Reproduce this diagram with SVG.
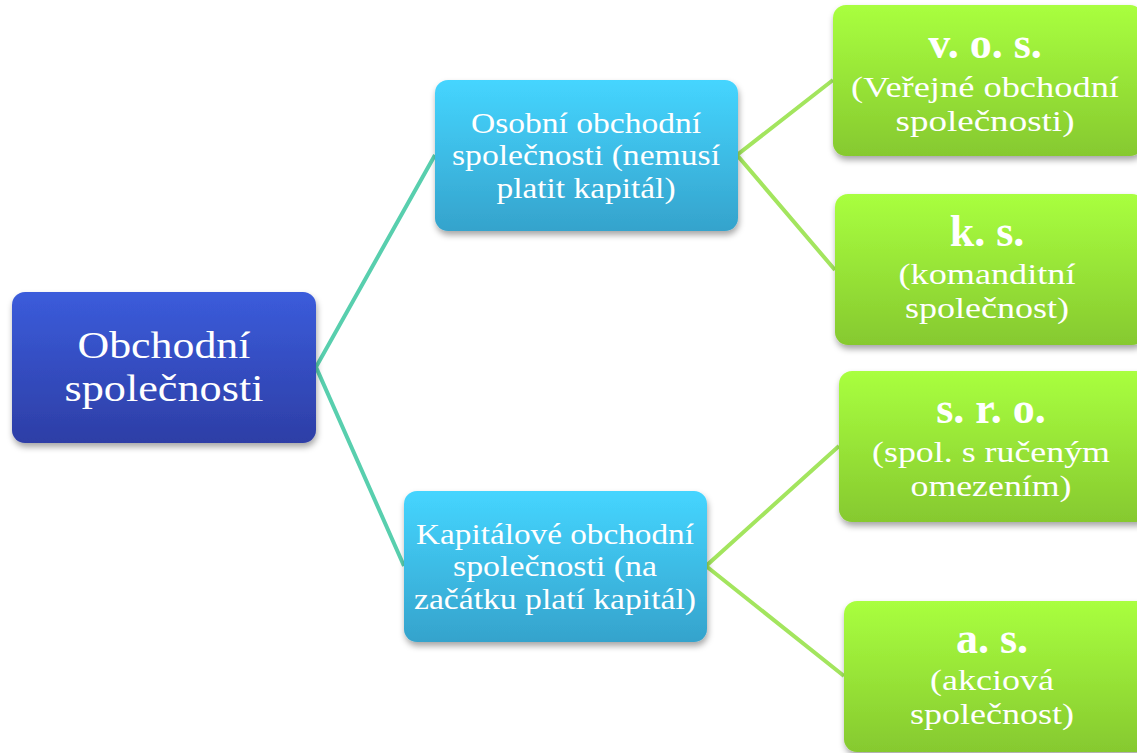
<svg xmlns="http://www.w3.org/2000/svg" width="1137" height="753" viewBox="0 0 1137 753">
<defs>
<linearGradient id="gRoot" x1="0" y1="0" x2="0" y2="1"><stop offset="0" stop-color="#3b5cdb"/><stop offset="1" stop-color="#2d3ea6"/></linearGradient>
<linearGradient id="gMid" x1="0" y1="0" x2="0" y2="1"><stop offset="0" stop-color="#45d5ff"/><stop offset="1" stop-color="#35a3cc"/></linearGradient>
<linearGradient id="gLeaf" x1="0" y1="0" x2="0" y2="1"><stop offset="0" stop-color="#a9ff3f"/><stop offset="1" stop-color="#86c92f"/></linearGradient>
<filter id="sh" x="-10%" y="-10%" width="125%" height="130%"><feDropShadow dx="1" dy="4" stdDeviation="3" flood-color="#000" flood-opacity="0.35"/></filter>
<style>
.t{font-family:"Liberation Serif","DejaVu Serif",serif;fill:#fff;text-anchor:middle}
.r{font-size:38px}
.m{font-size:29px}
.l{font-size:30px}
.b{font-size:44px;font-weight:bold}
.c1{stroke:#58cfae;stroke-width:4;fill:none}
.c2{stroke:#a3e55e;stroke-width:4;fill:none}
</style>
</defs>
<g id="connectors">
<polyline class="c1" points="435,155 316,367 404,566"/>
<polyline class="c2" points="833,80 737,155 835,270"/>
<polyline class="c2" points="839,446 706,566 844,676"/>
</g>
<g id="root">
<rect x="12" y="292" width="304" height="151" rx="13" fill="url(#gRoot)" filter="url(#sh)"/>
<text class="t r" x="164" y="358" textLength="173" lengthAdjust="spacingAndGlyphs">Obchodní</text>
<text class="t r" x="164" y="401" textLength="199" lengthAdjust="spacingAndGlyphs">společnosti</text>
</g>
<g id="osobni">
<rect x="435" y="80" width="303" height="151" rx="13" fill="url(#gMid)" filter="url(#sh)"/>
<text class="t m" x="586" y="133" textLength="230" lengthAdjust="spacingAndGlyphs">Osobní obchodní</text>
<text class="t m" x="586" y="165" textLength="268" lengthAdjust="spacingAndGlyphs">společnosti (nemusí</text>
<text class="t m" x="586" y="198" textLength="179" lengthAdjust="spacingAndGlyphs">platit kapitál)</text>
</g>
<g id="kapitalove">
<rect x="404" y="491" width="303" height="151" rx="13" fill="url(#gMid)" filter="url(#sh)"/>
<text class="t m" x="555" y="544" textLength="278" lengthAdjust="spacingAndGlyphs">Kapitálové obchodní</text>
<text class="t m" x="555" y="576" textLength="204" lengthAdjust="spacingAndGlyphs">společnosti (na</text>
<text class="t m" x="555" y="609" textLength="282" lengthAdjust="spacingAndGlyphs">začátku platí kapitál)</text>
</g>
<g id="vos">
<rect x="833" y="5" width="310" height="151" rx="13" fill="url(#gLeaf)" filter="url(#sh)"/>
<text class="t b" x="985" y="58">v. o. s.</text>
<text class="t l" x="985" y="97" textLength="268" lengthAdjust="spacingAndGlyphs">(Veřejné obchodní</text>
<text class="t l" x="985" y="131" textLength="179" lengthAdjust="spacingAndGlyphs">společnosti)</text>
</g>
<g id="ks">
<rect x="835" y="194" width="310" height="151" rx="13" fill="url(#gLeaf)" filter="url(#sh)"/>
<text class="t b" x="987" y="246">k. s.</text>
<text class="t l" x="987" y="284" textLength="177" lengthAdjust="spacingAndGlyphs">(komanditní</text>
<text class="t l" x="987" y="318" textLength="164" lengthAdjust="spacingAndGlyphs">společnost)</text>
</g>
<g id="sro">
<rect x="839" y="371" width="310" height="151" rx="13" fill="url(#gLeaf)" filter="url(#sh)"/>
<text class="t b" x="991" y="423">s. r. o.</text>
<text class="t l" x="991" y="462" textLength="238" lengthAdjust="spacingAndGlyphs">(spol. s ručeným</text>
<text class="t l" x="991" y="496" textLength="161" lengthAdjust="spacingAndGlyphs">omezením)</text>
</g>
<g id="as">
<rect x="844" y="601" width="310" height="151" rx="13" fill="url(#gLeaf)" filter="url(#sh)"/>
<text class="t b" x="992" y="653">a. s.</text>
<text class="t l" x="992" y="690" textLength="124" lengthAdjust="spacingAndGlyphs">(akciová</text>
<text class="t l" x="992" y="724" textLength="164" lengthAdjust="spacingAndGlyphs">společnost)</text>
</g>
</svg>
